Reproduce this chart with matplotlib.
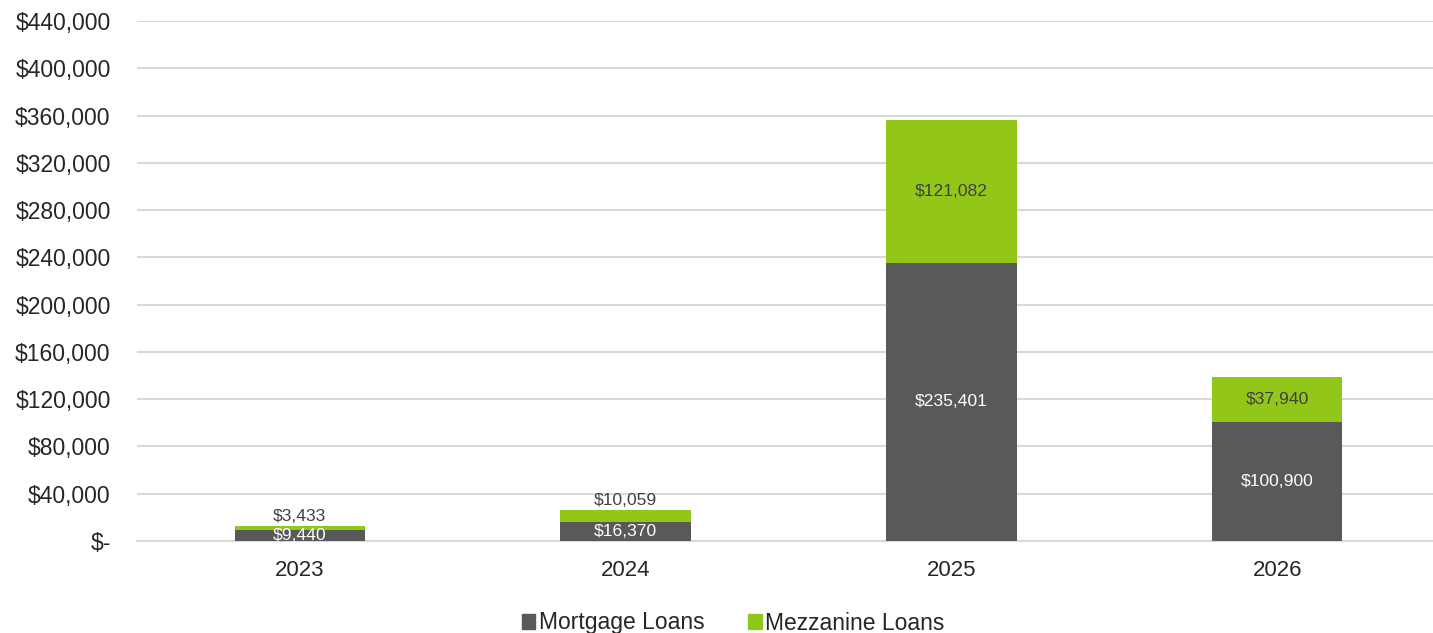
import matplotlib.pyplot as plt
from matplotlib.patches import Patch
from matplotlib.ticker import FuncFormatter

years = ["2023", "2024", "2025", "2026"]
mortgage = [9440, 16370, 235401, 100900]
mezzanine = [3433, 10059, 121082, 37940]

dark = "#595959"
green = "#92C71A"
grid_c = "#d9d9d9"

plt.rcParams['font.family'] = ['Liberation Sans', 'DejaVu Sans']

fig = plt.figure(figsize=(14.33, 6.33), dpi=100)
ax = fig.add_axes([137 / 1433, 1 - 541 / 633, 1303 / 1433, 520 / 633])

x = list(range(len(years)))
w = 0.4
ax.bar(x, mortgage, w, color=dark, zorder=3)
ax.bar(x, mezzanine, w, bottom=mortgage, color=green, zorder=3)

ax.set_xlim(-0.5, len(years) - 0.5)
ax.set_ylim(0, 440000)
ax.set_yticks(range(0, 440001, 40000))
# zero shown accounting style, dash sits a little right of the other labels
ax.yaxis.set_major_formatter(FuncFormatter(lambda v, p: "$-" if v == 0 else f"${v:,.0f}"))
ax.set_xticks(x)
ax.set_xticklabels(years)
ax.tick_params(axis='y', length=0, pad=19, labelsize=16.5, labelcolor="#262626")
ax.tick_params(axis='x', length=0, pad=14, labelsize=16, labelcolor="#262626")
ax.get_yticklabels()[0].set_x(ax.get_yticklabels()[0].get_position()[0])
ax.grid(axis='y', color=grid_c, linewidth=1.5, zorder=0)
for s in ["top", "right", "left"]:
    ax.spines[s].set_visible(False)
ax.spines["bottom"].set_color(grid_c)
ax.spines["bottom"].set_linewidth(1.5)

# data labels
for i in x:
    m, z = mortgage[i], mezzanine[i]
    ax.text(i, m / 2, f"${m:,}", ha='center', va='center', color="white", fontsize=12.6, zorder=4)
    if z > 30000:
        ax.text(i, m + z / 2, f"${z:,}", ha='center', va='center', color="#404040", fontsize=12.6, zorder=4)
    else:
        ax.annotate(f"${z:,}", (i, m + z), xytext=(0, 1.5), textcoords='offset points',
                    ha='center', va='bottom', color="#404040", fontsize=12.6, zorder=4)

handles = [Patch(color=dark, label="Mortgage Loans"), Patch(color=green, label="Mezzanine Loans")]
fig.legend(handles=handles, loc='center', bbox_to_anchor=(733 / 1433, 1 - 623 / 633), ncol=2,
           frameon=False, fontsize=16.5, handlelength=0.6, handleheight=0.6, handletextpad=0.15,
           columnspacing=1.9, labelcolor="#262626")

fig.savefig("out.png", dpi=100)
